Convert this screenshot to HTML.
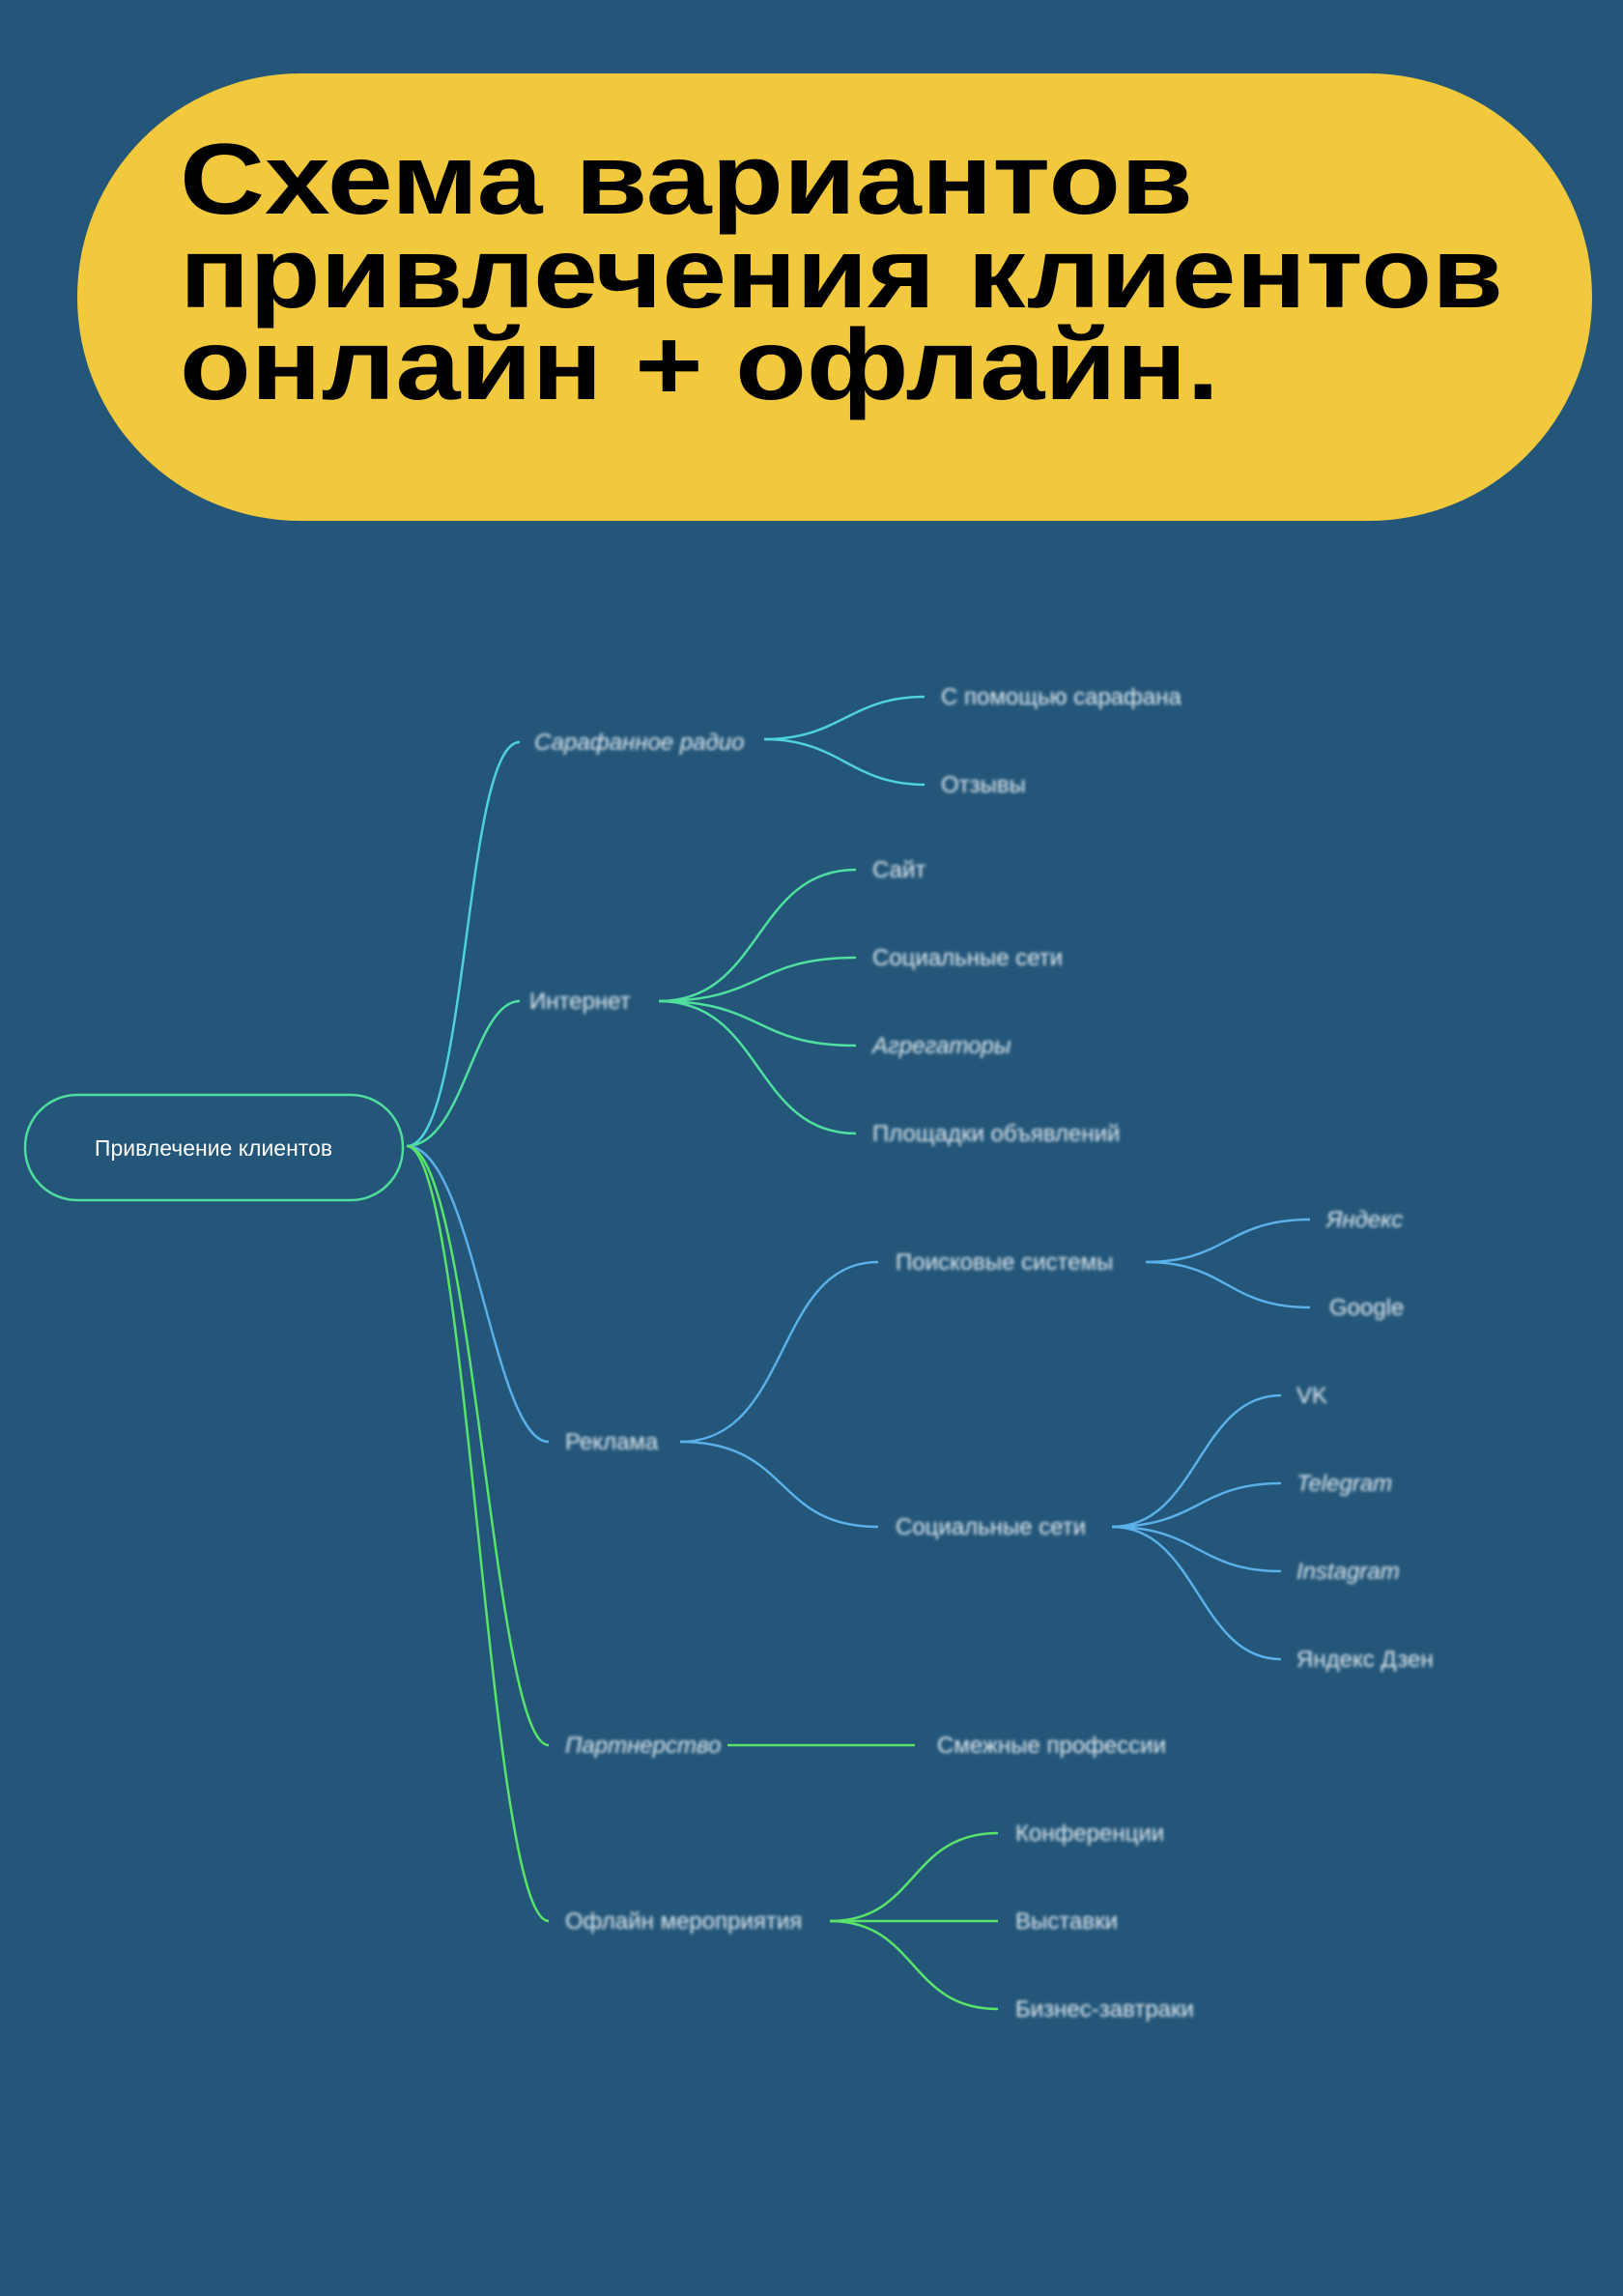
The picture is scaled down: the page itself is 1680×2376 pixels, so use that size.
<!DOCTYPE html>
<html><head><meta charset="utf-8"><style>
html,body{margin:0;padding:0;background:#235679;}
svg{display:block}
</style></head><body>
<svg width="1680" height="2376" viewBox="0 0 1680 2376" xmlns="http://www.w3.org/2000/svg">
<defs><filter id="b" x="-10%" y="-50%" width="130%" height="200%"><feGaussianBlur stdDeviation="1.6"/></filter></defs>
<rect width="1680" height="2376" fill="#235679"/>
<rect x="80" y="76" width="1568" height="463" rx="231" fill="#f2c93c"/>
<g font-family="Liberation Sans, sans-serif" font-weight="bold" font-size="104" fill="#000">
<text x="186" y="221" textLength="1049" lengthAdjust="spacingAndGlyphs">Схема вариантов</text>
<text x="186" y="318" textLength="1370" lengthAdjust="spacingAndGlyphs">привлечения клиентов</text>
<text x="186" y="413" textLength="1076" lengthAdjust="spacingAndGlyphs">онлайн + офлайн.</text>
</g>
<g fill="none" stroke-width="2.5">
<rect x="26" y="1133" width="391" height="109" rx="54" stroke="#4fdc9c"/>
<path d="M421 1186 C485 1186 480 768 538 768" stroke="#4fd1dc"/>
<path d="M421 1186 C480 1186 490 1036 538 1036" stroke="#4fe0a0"/>
<path d="M421 1186 C490 1186 510 1492 568 1492" stroke="#5ab0e8"/>
<path d="M421 1186 C490 1186 510 1806 568 1806" stroke="#5ae36a"/>
<path d="M421 1186 C485 1186 505 1988 568 1988" stroke="#5ae36a"/>
<path d="M791 765 C870 765 880 721 957 721" stroke="#4fd1dc"/>
<path d="M791 765 C870 765 880 812 957 812" stroke="#4fd1dc"/>
<path d="M682 1036 C790 1036 780 900 886 900" stroke="#4fe0a0"/>
<path d="M682 1036 C790 1036 780 991 886 991" stroke="#4fe0a0"/>
<path d="M682 1036 C790 1036 780 1082 886 1082" stroke="#4fe0a0"/>
<path d="M682 1036 C790 1036 780 1173 886 1173" stroke="#4fe0a0"/>
<path d="M704 1492 C820 1492 800 1306 909 1306" stroke="#5ab0e8"/>
<path d="M704 1492 C820 1492 800 1580 909 1580" stroke="#5ab0e8"/>
<path d="M1186 1306 C1270 1306 1270 1262 1356 1262" stroke="#5ab0e8"/>
<path d="M1186 1306 C1270 1306 1270 1353 1356 1353" stroke="#5ab0e8"/>
<path d="M1151 1580 C1240 1580 1240 1444 1326 1444" stroke="#5ab0e8"/>
<path d="M1151 1580 C1240 1580 1240 1535 1326 1535" stroke="#5ab0e8"/>
<path d="M1151 1580 C1240 1580 1240 1626 1326 1626" stroke="#5ab0e8"/>
<path d="M1151 1580 C1240 1580 1240 1717 1326 1717" stroke="#5ab0e8"/>
<path d="M753 1806 L947 1806" stroke="#5ae36a"/>
<path d="M859 1988 C950 1988 940 1897 1033 1897" stroke="#5ae36a"/>
<path d="M859 1988 L1033 1988" stroke="#5ae36a"/>
<path d="M859 1988 C950 1988 940 2079 1033 2079" stroke="#5ae36a"/>
</g>
<text x="221" y="1196" font-family="Liberation Sans, sans-serif" font-size="23" fill="#fff" text-anchor="middle">Привлечение клиентов</text>
<g font-family="Liberation Sans, sans-serif" font-size="24" fill="#e4edf2" filter="url(#b)">
<text x="553" y="776" font-style="italic">Сарафанное радио</text>
<text x="548" y="1044">Интернет</text>
<text x="585" y="1500">Реклама</text>
<text x="585" y="1814" font-style="italic">Партнерство</text>
<text x="585" y="1996">Офлайн мероприятия</text>
<text x="974" y="729">С помощью сарафана</text>
<text x="974" y="820">Отзывы</text>
<text x="903" y="908">Сайт</text>
<text x="903" y="999">Социальные сети</text>
<text x="903" y="1090" font-style="italic">Агрегаторы</text>
<text x="903" y="1181">Площадки объявлений</text>
<text x="927" y="1314">Поисковые системы</text>
<text x="927" y="1588">Социальные сети</text>
<text x="1373" y="1270" font-style="italic">Яндекс</text>
<text x="1376" y="1361">Google</text>
<text x="1342" y="1452">VK</text>
<text x="1342" y="1543" font-style="italic">Telegram</text>
<text x="1342" y="1634" font-style="italic">Instagram</text>
<text x="1342" y="1725">Яндекс Дзен</text>
<text x="970" y="1814">Смежные профессии</text>
<text x="1051" y="1905">Конференции</text>
<text x="1051" y="1996">Выставки</text>
<text x="1051" y="2087">Бизнес-завтраки</text>
</g>
</svg>
</body></html>
